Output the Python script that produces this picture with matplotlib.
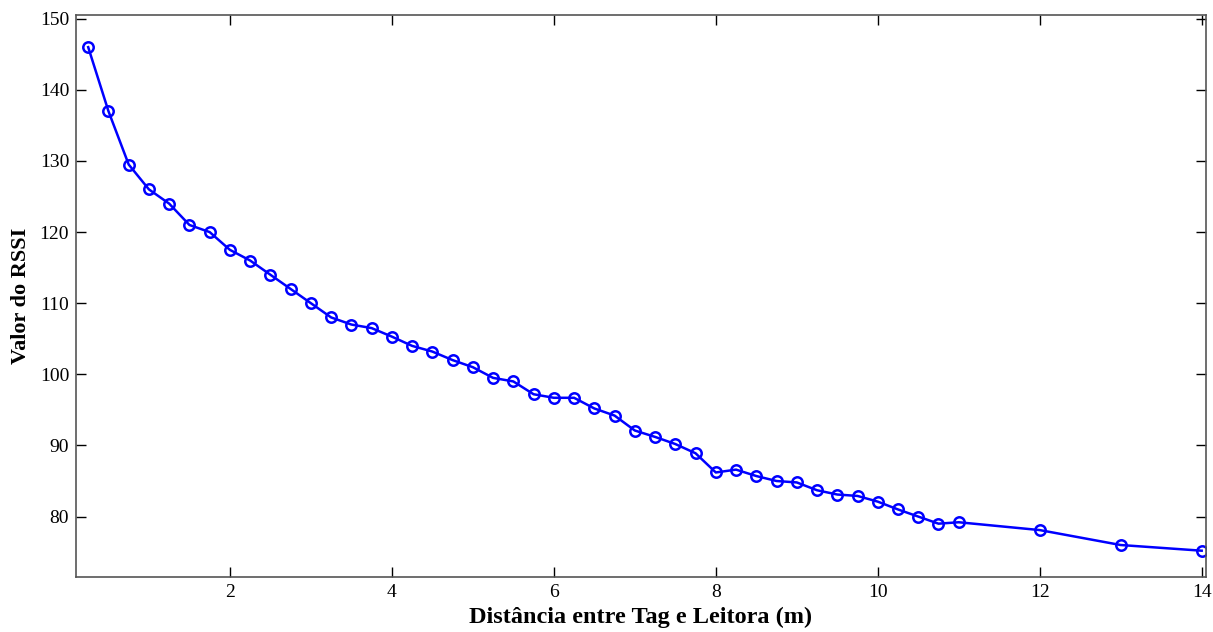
import matplotlib.pyplot as plt

distancia = [0.25, 0.5, 0.75, 1.0, 1.25, 1.5, 1.75, 2.0, 2.25, 2.5, 2.75, 3.0,
             3.25, 3.5, 3.75, 4.0, 4.25, 4.5, 4.75, 5.0, 5.25, 5.5, 5.75, 6.0,
             6.25, 6.5, 6.75, 7.0, 7.25, 7.5, 7.75, 8.0, 8.25, 8.5, 8.75, 9.0,
             9.25, 9.5, 9.75, 10.0, 10.25, 10.5, 10.75, 11.0, 12.0, 13.0, 14.0]
rssi = [146, 137, 129.5, 126, 124, 121, 120, 117.5, 116, 114, 112, 110,
        108, 107, 106.5, 105.3, 104, 103.2, 102, 101, 99.5, 99, 97.2, 96.7,
        96.7, 95.2, 94.2, 92.1, 91.2, 90.2, 88.9, 86.2, 86.6, 85.7, 85, 84.8,
        83.7, 83.1, 82.9, 82.1, 81, 80, 79, 79.2, 78.1, 76, 75.2]

plt.rcParams['font.family'] = ['Liberation Serif', 'DejaVu Serif']

fig = plt.figure(figsize=(12.13, 6.32), dpi=100)
ax = fig.add_axes([0.0627, 0.087, 0.9313, 0.889])

ax.plot(distancia, rssi, '-o', color='#0000ff', lw=1.8, ms=7.5,
        mfc='none', mew=1.8)

ax.set_xlim(0.1, 14.05)
ax.set_ylim(71.5, 150.5)
ax.set_xticks([2, 4, 6, 8, 10, 12, 14])
ax.set_yticks([80, 90, 100, 110, 120, 130, 140, 150])
ax.tick_params(direction='in', top=True, right=True, labelsize=14,
               length=7.5, width=1, pad=5)
for s in ax.spines.values():
    s.set_linewidth(1.2)
    s.set_color('#555555')

ax.set_xlabel('Distância entre Tag e Leitora (m)', fontsize=17.5,
              weight='bold', labelpad=4)
ax.set_ylabel('Valor do RSSI', fontsize=16, weight='bold', labelpad=6)

fig.savefig('out.png', dpi=100)
